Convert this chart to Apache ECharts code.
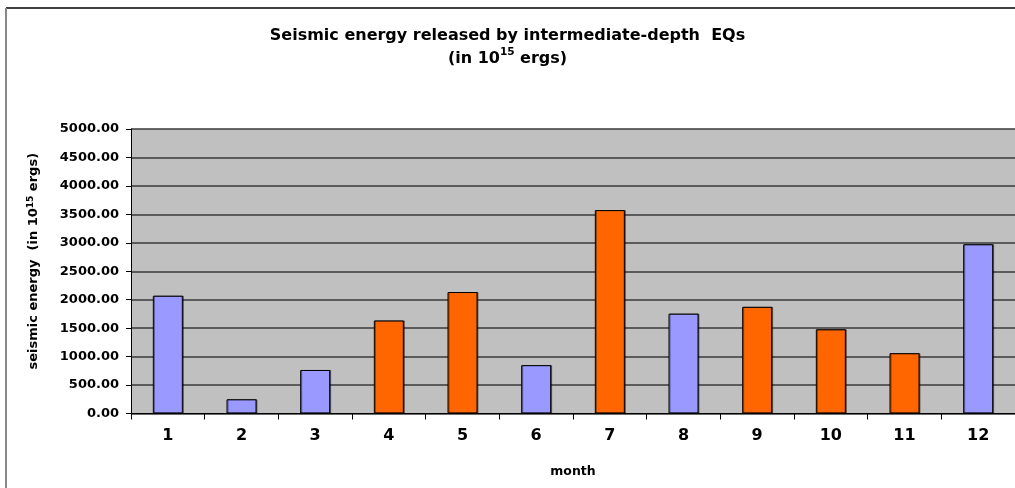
<!DOCTYPE html>
<html>
<head>
<meta charset="utf-8">
<script src="https://cdn.jsdelivr.net/npm/echarts@6/dist/echarts.min.js"></script>
<style>
  html, body { margin: 0; padding: 0; background: #ffffff; }
  #chart { width: 1015px; height: 488px; }
</style>
</head>
<body>
<div id="chart"></div>
<script>
// Monthly seismic energy released by intermediate-depth earthquakes (10^15 ergs)
const months = ['1', '2', '3', '4', '5', '6', '7', '8', '9', '10', '11', '12'];
const energy = [2070, 250, 765, 1635, 2135, 850, 3575, 1755, 1875, 1480, 1060, 2975];
// months drawn in the accent colour
const highlighted = [false, false, false, true, true, false, true, false, true, true, true, false];

const BLUE = '#9999FF';
const ORANGE = '#FF6600';
const FONT = 'DejaVu Sans';

const chart = echarts.init(document.getElementById('chart'), null, { renderer: 'canvas' });

chart.setOption({
  backgroundColor: '#ffffff',
  animation: false,
  title: {
    left: 'center',
    top: 19,
    text: '{t|Seismic energy released by intermediate-depth  EQs}\n{t|(in 10}{sup|15}{t| ergs)}',
    textStyle: {
      rich: {
        t: { fontFamily: FONT, fontWeight: 'bold', fontSize: 16, color: '#000', lineHeight: 23 },
        sup: { fontFamily: FONT, fontWeight: 'bold', fontSize: 10.5, color: '#000', lineHeight: 23, verticalAlign: 'top' }
      }
    }
  },
  graphic: [
    { type: 'line', shape: { x1: 6, y1: 8, x2: 1015, y2: 8 }, style: { stroke: '#000', lineWidth: 1.5 } },
    { type: 'line', shape: { x1: 6, y1: 8, x2: 6, y2: 488 }, style: { stroke: '#888', lineWidth: 2 } }
  ],
  grid: {
    left: 131,
    top: 129,
    right: -5,
    bottom: 74.5,
    show: true,
    backgroundColor: '#C0C0C0',
    borderWidth: 0
  },
  xAxis: {
    type: 'category',
    data: months,
    name: 'month',
    nameLocation: 'middle',
    nameGap: 52,
    nameTextStyle: { fontFamily: FONT, fontWeight: 'bold', fontSize: 12.5, color: '#000', verticalAlign: 'top' },
    axisLine: { lineStyle: { color: '#000', width: 1 } },
    axisTick: { show: true, length: 6, interval: 0, lineStyle: { color: '#000' } },
    axisLabel: { margin: 14, fontFamily: FONT, fontWeight: 'bold', fontSize: 16, color: '#000' },
    splitLine: { show: false }
  },
  yAxis: {
    type: 'value',
    min: 0,
    max: 5000,
    interval: 500,
    name: '{n|seismic energy  (in 10}{sup|15}{n| ergs)}',
    nameLocation: 'middle',
    nameGap: 89,
    nameRotate: 90,
    nameTextStyle: {
      padding: [0, 0, 0, 20],
      rich: {
        n: { fontFamily: FONT, fontWeight: 'bold', fontSize: 13, color: '#000', lineHeight: 16 },
        sup: { fontFamily: FONT, fontWeight: 'bold', fontSize: 9, color: '#000', lineHeight: 16, verticalAlign: 'top' }
      }
    },
    axisLine: { show: true, lineStyle: { color: '#000', width: 1 } },
    axisTick: { show: true, length: 5, lineStyle: { color: '#000' } },
    axisLabel: {
      margin: 12,
      fontFamily: FONT, fontWeight: 'bold', fontSize: 13, color: '#000',
      formatter: v => v.toFixed(2)
    },
    splitLine: { show: true, lineStyle: { color: '#3a3a3a', width: 1.5 } }
  },
  series: [{
    type: 'bar',
    barWidth: 30,
    data: energy.map((v, i) => ({
      value: v,
      itemStyle: { color: highlighted[i] ? ORANGE : BLUE }
    })),
    itemStyle: {
      borderColor: '#000',
      borderWidth: 1,
      shadowColor: 'rgba(0,0,0,0.45)',
      shadowOffsetX: 1,
      shadowOffsetY: 0,
      shadowBlur: 0
    }
  }]
});
</script>
</body>
</html>
